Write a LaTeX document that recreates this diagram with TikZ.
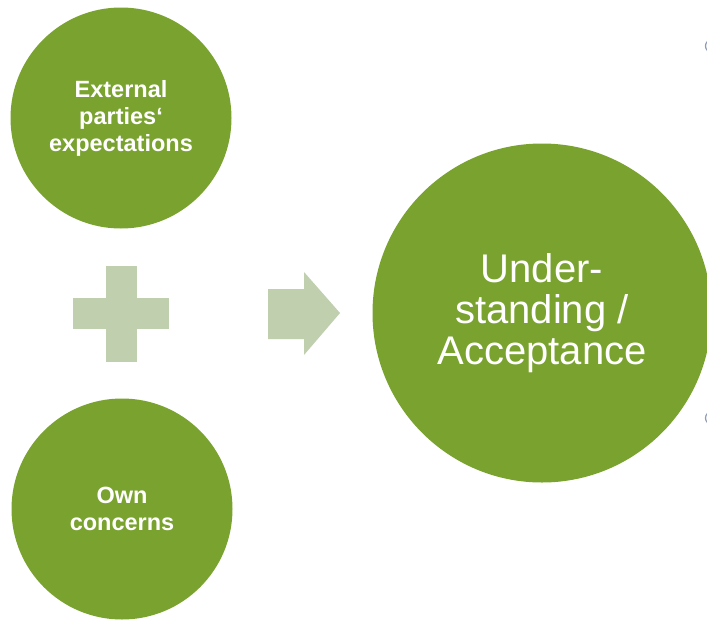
\documentclass[tikz,border=0pt]{standalone}
\usepackage{fontspec}
\setmainfont{Liberation Sans}
\definecolor{leafgreen}{HTML}{79A22F}
\definecolor{palegreen}{HTML}{C0CFAE}
\definecolor{edgegray}{HTML}{8E9BB5}
\tikzset{
  bubble/.style={circle, fill=leafgreen, draw=none, inner sep=0pt, text=white, align=center},
  smallbubble/.style={bubble, minimum size=221pt, font=\bfseries\fontsize{23.5}{27}\selectfont},
  bigbubble/.style={bubble, minimum size=339pt, font=\fontsize{40}{41}\selectfont},
  paleshape/.style={fill=palegreen, draw=none},
  edgemark/.style={draw=edgegray, line width=1.2pt}
}
\begin{document}
\begin{tikzpicture}[x=1pt,y=-1pt]
\useasboundingbox (0,0) rectangle (707,619);
\clip (0,0) rectangle (707,619);
\fill[white] (0,0) rectangle (707,619);
% circles
\node[smallbubble] (ext) at (121,118) {External\\parties‘\\expectations};
\node[smallbubble] (own) at (122,509) {Own\\concerns};
\node[bigbubble] (res) at (542,313) {Under-\\standing /\\Acceptance};
% plus sign
\coordinate (plus) at (121,314);
\fill[paleshape] (73,298) rectangle (169,329);
\fill[paleshape] (106,266) rectangle (137,362);
% arrow
\coordinate (arrtip) at (340,313);
\fill[paleshape] (268,289) -- (304,289) -- (304,272) -- (arrtip) -- (304,355) -- (304,339) -- (268,339) -- cycle;
% edge slivers at the right border
\draw[edgemark] (712,46) circle (6.5);
\draw[edgemark] (712,418) circle (6.5);
\end{tikzpicture}
\end{document}
